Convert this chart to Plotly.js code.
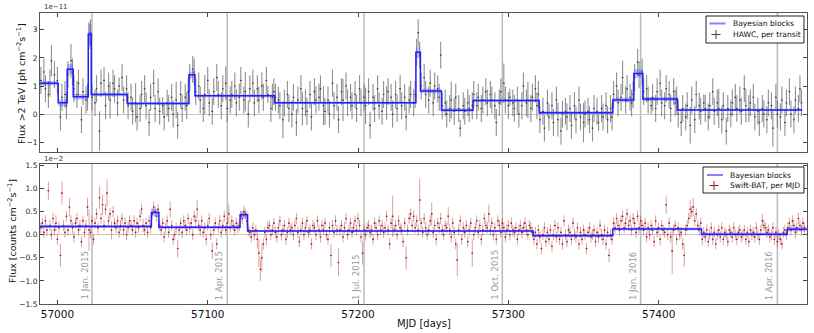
<!DOCTYPE html>
<html><head><meta charset="utf-8">
<script src="https://cdn.plot.ly/plotly-3.0.1.min.js"></script>
<style>body{margin:0;background:#fff}#chart{width:814px;height:333px}</style>
</head><body><div id="chart"></div>
<script>
// ---------- HAWC, per transit (flux >2 TeV, units of 1e-11 ph cm^-2 s^-1), one slot per day, null = no transit ----------
const HAWC_START = 56989;
const HAWC_ERR_DEFAULT = 0.48;
const hawcFlux = [
 1.2,null,1.5,0.9,null,0.7,1.1,1.9,null,1.4,null,1.2,
 null,-0.1,0.6,null,0.7,0.3,
 1.4,null,1.9,1.5,
 0.9,null,0.7,1.1,null,-0.2,0.8,null,0.5,0.6,
 2.8,2.9,
 0.6,null,0.4,0.9,null,-0.6,1.1,null,1.2,0.3,null,1.0,0.5,null,1.1,0.9,null,0.4,1.0,null,1.3,0.5,null,0.9,
 0.3,null,0.6,0.1,null,0.4,-0.1,null,0.2,0.7,null,0.9,0.3,null,-0.3,0.6,null,1.1,0.2,null,
 0.8,0.1,null,0.3,-0.1,null,0.4,0.2,null,0.6,0.0,null,0.5,-0.4,null,0.7,0.2,null,0.6,0.3,0.8,
 1.3,null,1.6,1.5,
 0.8,null,1.0,0.5,null,0.2,0.7,null,1.2,0.4,
 null,0.1,0.8,null,1.3,0.7,null,0.3,0.9,null,
 1.1,0.2,null,0.5,0.7,null,1.0,0.4,null,0.6,
 1.2,null,0.5,0.8,null,0.0,0.9,null,1.1,0.4,
 null,0.9,0.5,null,1.0,0.6,null,1.2,0.7,null,
 0.2,0.6,0.8,
 0.6,null,0.5,0.3,null,-0.2,0.4,null,0.7,0.2,
 null,0.0,0.6,null,-0.3,0.5,null,0.9,0.2,null,
 0.4,0.1,null,0.7,-0.1,null,0.8,0.5,null,0.6,
 0.9,null,0.3,0.1,null,0.5,0.0,null,1.1,0.3,
 null,0.6,-0.2,null,0.8,0.5,null,1.0,0.4,null,
 0.6,0.3,null,0.7,0.2,null,0.9,0.4,null,0.6,
 0.3,null,0.8,-0.4,null,0.6,0.2,null,0.9,0.3,
 null,0.1,0.7,null,0.4,0.8,null,0.6,0.0,null,
 0.7,0.2,null,0.9,0.3,null,0.6,-0.1,null,0.5,
 0.7,null,0.4,0.7,
 2.2,2.9,2.1,
 1.0,null,1.3,0.7,null,0.5,1.1,null,0.4,1.0,null,0.9,0.6,2.1,
 0.3,null,0.4,0.0,null,0.2,0.5,null,0.1,0.6,null,0.2,-0.5,null,0.3,0.1,null,0.4,0.2,null,0.3,
 0.7,null,0.3,0.6,null,0.2,0.5,null,0.8,0.4,
 null,0.7,0.5,null,0.3,-0.3,null,0.4,0.8,null,
 1.1,0.5,null,0.3,0.6,null,0.4,0.2,null,0.5,
 0.0,null,0.3,1.0,null,0.4,0.5,null,0.2,0.6,
 null,0.9,0.3,0.7,
 -0.2,null,0.1,-0.5,null,0.4,-0.1,null,0.3,-0.3,
 null,0.5,-0.2,null,-0.6,0.0,null,0.1,-0.1,null,
 0.2,-0.4,null,0.3,-0.2,null,0.5,-0.1,null,-0.3,
 0.0,null,0.1,-0.2,null,-0.5,0.2,null,0.1,-0.3,
 null,0.2,-0.1,null,0.3,-0.2,null,0.2,-0.1,
 0.7,null,1.0,0.4,null,0.6,1.3,null,0.5,0.9,null,0.6,0.4,0.7,
 1.3,null,1.85,1.4,null,1.5,
 0.8,null,0.9,0.5,null,0.3,0.6,null,0.2,0.8,null,1.1,0.4,null,0.3,0.9,null,0.7,0.2,null,0.8,0.4,0.5,
 0.0,null,-0.3,0.2,null,-0.1,0.3,null,-0.4,0.5,
 null,-0.2,0.7,null,0.3,0.1,null,0.4,0.2,null,
 -0.1,0.3,null,0.8,0.1,null,0.4,0.2,null,-0.2,
 0.3,null,-0.6,0.2,null,0.0,0.4,null,0.6,0.2,
 null,0.5,0.1,null,0.9,0.3,null,0.2,0.4,null,
 0.6,-0.1,null,0.1,-0.3,null,0.2,0.0,null,-0.2,
 0.4,null,0.3,-0.5,null,0.6,0.0,null,-0.1,0.5,
 null,-0.3,0.4,null,0.8,0.0,null,-0.2,0.5,null,
 0.2,0.9,0.4
];
// transits whose error bar differs from the default
const hawcErrMJD = [56996,57004,57009,57015,57028,57035,57041,57052,57066,57070,57079,57098,57105,57112,57125,57140,57150,57163,57170,57177,57190,57205,57212,57219,57233,57262,57268,57281,57297,57301,57313,57333,57340,57350,57360,57376,57395,57400,57421,57430,57440,57458,57465,57476,57492];
const hawcErrVal  = [0.55,0.3,0.6,0.65,0.7,0.65,0.3,0.7,0.6,0.3,0.65,0.7,0.3,0.6,0.7,0.3,0.65,0.6,0.3,0.7,0.75,0.65,0.3,0.6,0.7,0.65,0.3,0.6,0.7,0.3,0.65,0.6,0.3,0.7,0.3,0.6,0.3,0.7,0.65,0.3,0.7,0.6,0.3,0.65,0.7];
// Bayesian blocks for HAWC
const hawcEdges = [56988.5,57000.5,57006.5,57010.5,57020.5,57022.5,57046.5,57087.5,57091.5,57144.5,57238.5,57241.5,57255.5,57276.5,57320.5,57369.5,57383.5,57389.5,57412.5,57495.5];
const hawcLevels = [1.1,0.4,1.6,0.62,2.85,0.7,0.38,1.4,0.65,0.4,2.2,0.82,0.14,0.48,0.05,0.5,1.45,0.54,0.15];
const hawcBand = [0.08,0.12,0.18,0.1,0.35,0.06,0.05,0.12,0.05,0.04,0.2,0.08,0.06,0.05,0.05,0.08,0.15,0.07,0.04];

// ---------- Swift-BAT, per MJD (units of 1e-2 counts cm^-2 s^-1) ----------
const SWIFT_START = 56989;
const SWIFT_ERR_DEFAULT = 0.12;
const swiftFlux = [
 0.15,0.25,0.05,0.3,0.1,0.95,0.2,0.0,0.35,0.1,
 0.25,-0.1,0.15,-0.45,0.9,0.2,0.05,0.4,0.1,0.6,
 0.3,0.15,-0.05,0.25,0.35,0.1,0.2,-0.15,0.3,0.05,
 0.2,0.6,0.1,0.05,0.3,-0.1,0.25,0.45,0.15,0.8,
 0.35,0.65,0.2,0.55,0.9,0.3,0.45,0.1,0.5,0.25,
 0.15,0.3,0.05,0.2,0.35,0.1,0.25,0.0,0.15,0.3,
 0.2,0.1,0.3,0.05,0.25,0.15,0.4,0.55,0.2,0.1,
 0.25,0.05,0.3,0.15,
 0.45,0.6,0.5,0.4,0.55,
 0.2,0.1,0.25,-0.05,0.15,0.3,0.05,0.55,0.2,-0.1,
 0.0,0.15,-0.3,0.1,0.25,0.05,0.3,0.2,0.1,0.35,
 0.15,0.25,0.0,0.4,0.3,0.55,0.2,0.1,0.3,0.05,
 0.15,-0.1,0.2,0.35,0.0,-0.35,0.1,0.25,-0.2,0.15,
 0.3,0.05,0.2,0.4,0.1,0.25,0.45,0.15,0.3,0.2,
 0.1,0.25,0.15,0.2,
 0.4,0.35,0.5,0.45,0.3,
 0.1,0.05,-0.05,0.15,0.0,0.1,-0.1,-0.4,-0.75,-0.5,
 -0.2,0.05,-0.1,0.15,0.2,0.0,0.1,0.25,0.05,-0.05,
 0.15,0.3,0.0,0.1,0.2,-0.1,0.05,0.25,0.1,0.15,
 0.0,0.2,0.35,0.05,-0.15,0.1,0.25,0.0,0.15,0.3,
 0.05,0.1,-0.2,0.2,0.15,0.0,0.3,0.1,-0.05,0.2,
 0.1,0.25,0.0,-0.1,0.15,-0.45,0.2,0.05,0.3,0.1,
 -0.6,0.1,0.2,-0.05,0.15,0.35,0.0,0.1,0.25,0.05,
 0.15,0.3,0.1,0.35,0.2,-0.05,-0.4,0.1,0.0,0.15,
 0.2,0.05,0.1,-0.1,0.25,0.15,0.0,0.3,0.1,0.2,
 0.05,0.15,0.4,0.1,-0.2,0.25,0.4,0.1,0.2,0.0,
 0.3,0.15,0.1,-0.15,0.25,-0.5,0.1,0.35,0.45,0.2,
 0.4,0.15,0.3,0.1,0.75,0.25,0.05,0.35,0.15,0.0,
 0.1,0.3,0.45,0.05,0.2,-0.1,0.25,0.15,0.35,0.1,
 0.0,0.2,0.15,0.4,0.1,-0.05,0.25,0.05,-0.2,-0.55,
 0.1,0.3,-0.1,0.15,0.05,0.2,-0.15,0.1,0.25,-0.4,
 0.0,0.15,0.3,0.05,0.2,-0.1,0.1,0.35,0.2,0.15,
 0.45,0.1,0.25,0.0,0.15,-0.1,0.3,0.2,0.05,0.25,
 0.15,-0.05,0.1,0.2,0.0,0.25,0.1,0.05,0.15,-0.1,
 0.1,0.2,0.05,0.15,0.25,0.1,0.0,0.2,0.15,0.05,
 -0.1,0.05,-0.2,0.1,-0.05,-0.3,0.0,0.15,-0.15,0.05,
 -0.1,0.1,-0.25,0.0,0.2,-0.05,0.15,-0.1,0.05,-0.2,
 0.3,0.0,-0.15,0.1,0.05,-0.1,0.25,0.0,-0.05,0.15,
 -0.2,0.05,-0.1,0.1,0.0,-0.3,0.05,0.15,-0.05,0.0,
 0.1,-0.15,0.05,-0.05,0.2,0.0,-0.1,0.1,-0.2,0.05,
 -0.45,0.0,-0.1,
 0.25,0.15,0.35,0.2,0.1,0.3,0.4,0.15,0.25,0.45,
 0.2,0.3,0.1,0.35,0.25,0.05,0.4,0.15,0.3,0.2,
 0.1,0.25,-0.05,0.15,0.0,0.2,0.1,-0.15,0.3,0.05,
 0.15,-0.1,0.2,0.1,0.05,0.65,0.0,0.25,-0.05,-0.35,
 0.1,0.2,-0.1,0.15,0.0,0.05,-0.2,-0.45,0.1,0.2,
 0.35,0.55,0.5,0.6,0.3,0.45,0.2,0.1,0.25,
 -0.1,0.05,-0.05,0.1,-0.15,0.0,0.15,-0.1,0.05,-0.2,
 0.0,0.1,-0.05,0.15,-0.1,0.05,0.0,-0.15,0.1,0.05,
 -0.05,0.15,0.0,-0.1,0.05,0.1,-0.05,0.0,0.1,-0.1,
 0.05,-0.15,0.1,0.0,0.05,-0.05,0.15,0.0,-0.1,0.1,
 0.3,0.2,0.15,0.05,0.1,-0.05,0.0,0.15,-0.1,0.05,
 -0.15,0.0,-0.1,-0.2,0.05,0.1,0.0,
 0.15,0.25,0.1,0.3,0.2,0.05,0.15,0.35,0.2,0.1,0.25,0.15
];
// days whose error bar differs from the default
const swiftErrMJD = [56994,56999,57002,57003,57008,57020,57021,57028,57030,57033,57036,57057,57075,57080,57093,57103,57114,57133,57134,57135,57136,57182,57187,57203,57223,57232,57241,57249,57260,57266,57276,57287,57367,57405,57409,57417,57421,57423,57469];
const swiftErrVal = [0.2,0.18,0.25,0.25,0.2,0.2,0.45,0.25,0.22,0.3,0.2,0.15,0.18,0.2,0.2,0.18,0.2,0.2,0.3,0.25,0.3,0.25,0.3,0.25,0.45,0.25,0.45,0.25,0.2,0.35,0.3,0.2,0.15,0.2,0.5,0.25,0.2,0.2,0.15];
// Bayesian blocks for Swift-BAT
const swiftEdges = [56988.5,57062.5,57067.5,57121.5,57126.5,57316.5,57369.5,57428.5,57485.5,57498.6];
const swiftLevels = [0.18,0.48,0.16,0.43,0.08,-0.02,0.125,0.01,0.12];
const swiftBand = [0.03,0.08,0.03,0.08,0.02,0.03,0.03,0.03,0.05];

// ---------- calendar markers ----------
const dateMJD = [57023,57113,57204,57296,57388,57479];
const dateLabels = ["1 Jan. 2015","1 Apr. 2015","1 Jul. 2015","1 Oct. 2015","1 Jan. 2016","1 Apr. 2016"];

const X_RANGE = [56988.4, 57498.7];

// ---------- build ----------
function dayAxis(vals, start){ return vals.map((v,i)=>start+i); }
function errorsFor(days, defVal, mjds, vals){
  const m = {}; mjds.forEach((d,i)=>{m[d]=vals[i];});
  return days.map(d => (d in m) ? m[d] : defVal);
}
const hawcX = dayAxis(hawcFlux, HAWC_START);
const hawcErr = errorsFor(hawcX, HAWC_ERR_DEFAULT, hawcErrMJD, hawcErrVal);
const swiftX = dayAxis(swiftFlux, SWIFT_START);
const swiftErr = errorsFor(swiftX, SWIFT_ERR_DEFAULT, swiftErrMJD, swiftErrVal);

function stepY(levels, off, sign){
  const arr = levels.map((l,i)=>l + sign*(off?off[i]:0));
  arr.push(arr[arr.length-1]);
  return arr;
}
const BAND_FILL = 'rgba(60,60,255,0.3)';
const LINE_BLUE = '#1f1fff';
function blockTraces(edges, levels, band, xa, ya){
  return [
    {x:edges, y:stepY(levels,band,1), xaxis:xa, yaxis:ya, mode:'lines', line:{shape:'hv', width:0, color:BAND_FILL}, hoverinfo:'skip'},
    {x:edges, y:stepY(levels,band,-1), xaxis:xa, yaxis:ya, mode:'lines', line:{shape:'hv', width:0, color:BAND_FILL}, fill:'tonexty', fillcolor:BAND_FILL, hoverinfo:'skip'},
    {x:edges, y:stepY(levels,null,1), xaxis:xa, yaxis:ya, mode:'lines', name:'Bayesian blocks', line:{shape:'hv', width:1.5, color:LINE_BLUE}, hoverinfo:'skip'}
  ];
}

const traces = [];
traces.push({
  x:hawcX, y:hawcFlux, xaxis:'x', yaxis:'y', mode:'markers', name:'HAWC, per transit',
  marker:{size:1.1, color:'#333'},
  error_y:{type:'data', array:hawcErr, color:'rgba(100,100,100,0.72)', thickness:1.1, width:0},
  error_x:{type:'constant', value:0.6, color:'rgba(50,50,50,0.8)', thickness:1, width:0}
});
traces.push(...blockTraces(hawcEdges, hawcLevels, hawcBand, 'x', 'y'));
traces.push({
  x:swiftX, y:swiftFlux, xaxis:'x2', yaxis:'y2', mode:'markers', name:'Swift-BAT, per MJD',
  marker:{size:1.6, color:'#a01818'},
  error_y:{type:'data', array:swiftErr, color:'rgba(185,70,70,0.5)', thickness:1, width:0},
  error_x:{type:'constant', value:0.5, color:'rgba(160,30,30,0.75)', thickness:1, width:0}
});
traces.push(...blockTraces(swiftEdges, swiftLevels, swiftBand, 'x2', 'y2'));

const FONT = 'DejaVu Sans, Liberation Sans, sans-serif';
const axisCommon = {
  showline:true, linecolor:'#555', linewidth:1, mirror:'ticks', ticks:'inside', ticklen:4, tickcolor:'#444',
  showgrid:false, fixedrange:true
};
const shapes = [];
dateMJD.forEach(d=>{
  shapes.push({type:'line', xref:'x', yref:'y domain', x0:d, x1:d, y0:0, y1:1, line:{color:'rgba(150,150,150,0.65)', width:1.5}, layer:'below'});
  shapes.push({type:'line', xref:'x2', yref:'y2 domain', x0:d, x1:d, y0:0, y1:1, line:{color:'rgba(150,150,150,0.65)', width:1.5}, layer:'below'});
});
const annotations = dateLabels.map((t,i)=>({
  text:t, x:dateMJD[i], xref:'x2', y:0.015, yref:'y2 domain', textangle:-90, xanchor:'right', yanchor:'bottom',
  xshift:-0.5, showarrow:false, font:{family:FONT, size:8.5, color:'#999'}
}));
annotations.push({text:'1e\u221211', x:0.002, xref:'paper', y:1, yref:'paper', xanchor:'left', yanchor:'bottom', showarrow:false, font:{family:FONT, size:7, color:'#333'}});
annotations.push({text:'1e\u22122', x:0.002, xref:'paper', y:0.481, yref:'paper', xanchor:'left', yanchor:'bottom', yshift:-1, showarrow:false, font:{family:FONT, size:7, color:'#333'}});
annotations.push({text:'Flux >2 TeV [ph cm<sup>\u22122</sup>s<sup>\u22121</sup>]', x:-0.0248, xref:'paper', y:0.759, yref:'paper', textangle:-90, xanchor:'center', yanchor:'middle', showarrow:false, font:{family:FONT, size:9.5, color:'#111'}});
annotations.push({text:'Flux [counts cm<sup>\u22122</sup>s<sup>\u22121</sup>]', x:-0.0365, xref:'paper', y:0.251, yref:'paper', textangle:-90, xanchor:'center', yanchor:'middle', showarrow:false, font:{family:FONT, size:9.5, color:'#111'}});
annotations.push({text:'MJD [days]', x:0.5, xref:'paper', y:-0.0687, yref:'paper', xanchor:'center', yanchor:'middle', showarrow:false, font:{family:FONT, size:10, color:'#111'}});

// ---------- compact legends (matplotlib-style boxes), built from trace names/colours ----------
const PW = 767, PH = 291, PL = 40, PB = 304;
const px = v => (v-PL)/PW, py = v => (PB-v)/PH;
function legendBox(box, entries){
  shapes.push({type:'rect', xref:'paper', yref:'paper', x0:px(box[0]), x1:px(box[1]), y0:py(box[3]), y1:py(box[2]), line:{color:'#222', width:1}, fillcolor:'#fff', layer:'above'});
  entries.forEach(e=>{
    if(e.kind==='line'){
      shapes.push({type:'line', xref:'paper', yref:'paper', x0:px(e.x-8), x1:px(e.x+8), y0:py(e.y), y1:py(e.y), line:{color:'rgba(90,90,255,0.75)', width:2}, layer:'above'});
    } else {
      shapes.push({type:'line', xref:'paper', yref:'paper', x0:px(e.x-4.5), x1:px(e.x+4.5), y0:py(e.y), y1:py(e.y), line:{color:e.color, width:1}, layer:'above'});
      shapes.push({type:'line', xref:'paper', yref:'paper', x0:px(e.x), x1:px(e.x), y0:py(e.y-4.5), y1:py(e.y+4.5), line:{color:e.color, width:1}, layer:'above'});
    }
    annotations.push({text:e.name, x:px(e.tx), xref:'paper', y:py(e.y), yref:'paper', xanchor:'left', yanchor:'middle', showarrow:false, font:{family:FONT, size:7.6, color:'#111'}});
  });
}
legendBox([706,804,16,43], [
  {kind:'line', name:traces[3].name, x:717.5, y:23.5, tx:731},
  {kind:'cross', name:traces[0].name, color:'#444', x:716, y:34.5, tx:731}
]);
legendBox([703,804,167,193], [
  {kind:'line', name:traces[7].name, x:715, y:175, tx:728},
  {kind:'cross', name:traces[4].name, color:'#a01818', x:714, y:185.5, tx:728}
]);

const layout = {
  width:814, height:333, margin:{l:40, r:7, t:13, b:29}, paper_bgcolor:'#fff', plot_bgcolor:'#fff',
  font:{family:FONT, color:'#111'}, showlegend:false,
  xaxis:Object.assign({}, axisCommon, {anchor:'y', range:X_RANGE, tick0:57000, dtick:100, showticklabels:false, zeroline:false}),
  yaxis:Object.assign({}, axisCommon, {anchor:'x', domain:[0.5223,1], range:[-1.35,3.6], dtick:1, tick0:0, zeroline:true, zerolinecolor:'#c8c8c8', zerolinewidth:1.2, tickfont:{size:7.5, family:FONT, color:'#222'}}),
  xaxis2:Object.assign({}, axisCommon, {anchor:'y2', range:X_RANGE, tick0:57000, dtick:100, tickformat:'d', zeroline:false, tickfont:{size:10.5, family:FONT, color:'#111'}}),
  yaxis2:Object.assign({}, axisCommon, {anchor:'x2', domain:[0,0.481], range:[-1.5,1.53], dtick:0.5, tick0:0, tickformat:'.1f', zeroline:true, zerolinecolor:'#c8c8c8', zerolinewidth:1.2, tickfont:{size:7.5, family:FONT, color:'#222'}}),
  shapes:shapes, annotations:annotations
};

Plotly.newPlot('chart', traces, layout, {staticPlot:true, displayModeBar:false});
</script></body></html>
